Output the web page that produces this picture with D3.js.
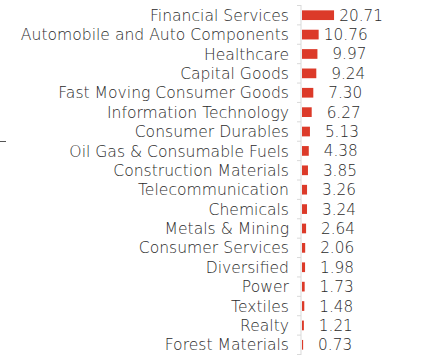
<!DOCTYPE html>
<html>
<head>
<meta charset="utf-8">
<script src="https://cdn.jsdelivr.net/npm/d3@7"></script>
<style>
  body { margin: 0; background: #fff; }
  svg text { font-family: "DejaVu Sans", sans-serif; font-weight: 200; fill: #2b2b2b; }
</style>
</head>
<body>
<svg width="428" height="362"></svg>
<script>
// sector weights (%)
const sectors = [
  "Financial Services", "Automobile and Auto Components", "Healthcare", "Capital Goods",
  "Fast Moving Consumer Goods", "Information Technology", "Consumer Durables",
  "Oil Gas & Consumable Fuels", "Construction Materials", "Telecommunication", "Chemicals",
  "Metals & Mining", "Consumer Services", "Diversified", "Power", "Textiles", "Realty",
  "Forest Materials"
];
const weights = [20.71, 10.76, 9.97, 9.24, 7.30, 6.27, 5.13, 4.38, 3.85, 3.26, 3.24, 2.64, 2.06, 1.98, 1.73, 1.48, 1.21, 0.73];

const data = sectors.map((s, i) => ({ name: s, value: weights[i] }));

const svg = d3.select("svg");
const x0 = 301;

const y = d3.scaleBand().domain(sectors).range([5.5, 354.5]).paddingInner(0.5).paddingOuter(0.25);
const x = d3.scaleLinear().domain([0, 21]).range([x0, x0 + 32.5]);

// axis with little ticks on the left
const axis = svg.append("g").attr("transform", `translate(${x0},0)`);
axis.append("line").attr("y1", 5).attr("y2", 355).attr("stroke", "#d9d9d9");
axis.selectAll("line.tk")
  .data(d3.range(sectors.length + 1))
  .join("line")
  .attr("class", "tk")
  .attr("x1", -4).attr("x2", 0)
  .attr("y1", (d) => 5.5 + d * y.step())
  .attr("y2", (d) => 5.5 + d * y.step())
  .attr("stroke", "#d9d9d9");

svg.append("g")
  .selectAll("rect")
  .data(data)
  .join("rect")
  .attr("x", x0 + 1)
  .attr("y", (d) => y(d.name))
  .attr("width", (d) => x(d.value) - x0)
  .attr("height", y.bandwidth())
  .attr("fill", "#dc3a29");

// category labels
svg.append("g")
  .selectAll("text")
  .data(data)
  .join("text")
  .attr("x", 289)
  .attr("y", (d) => y(d.name) + y.bandwidth() / 2)
  .attr("dy", "0.36em")
  .attr("text-anchor", "end")
  .attr("font-size", 15.6)
  .text((d) => d.name);

// value labels
svg.append("g")
  .selectAll("text")
  .data(data)
  .join("text")
  .attr("x", (d) => x(d.value) + 50)
  .attr("y", (d) => y(d.name) + y.bandwidth() / 2)
  .attr("dy", "0.36em")
  .attr("text-anchor", "end")
  .attr("font-size", 15.3)
  .text((d) => d.value.toFixed(2));

// stray mark at left edge
svg.append("line").attr("x1", 0).attr("x2", 6).attr("y1", 141.5).attr("y2", 141.5).attr("stroke", "#555");
</script>
</body>
</html>
